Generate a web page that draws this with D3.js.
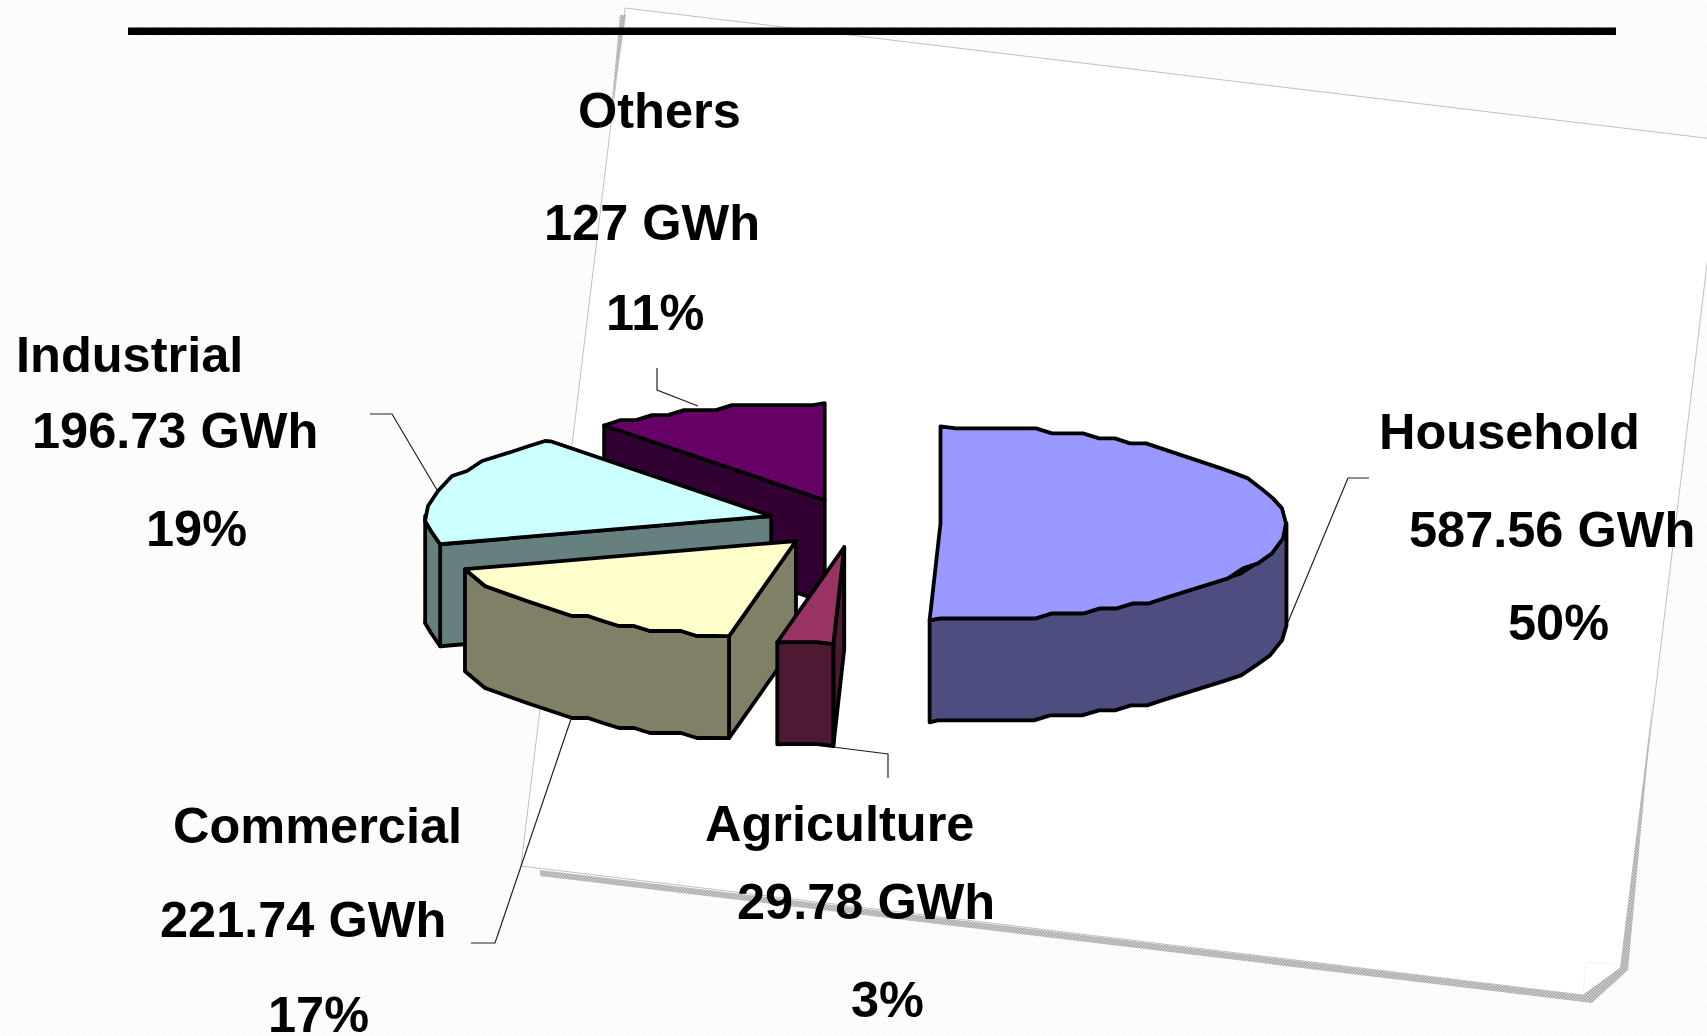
<!DOCTYPE html>
<html>
<head>
<meta charset="utf-8">
<title>Electricity use by sector</title>
<script src="https://cdn.jsdelivr.net/npm/d3@7"></script>
<style>
  html, body { margin: 0; padding: 0; background: #fcfcfc; overflow: hidden; }
  text { font-family: "Liberation Sans", Arial, sans-serif; font-weight: bold; font-size: 50.5px; fill: #000; }
</style>
</head>
<body>
<div id="chart"></div>
<script>
var categories = ['Household', 'Agriculture', 'Commercial', 'Industrial', 'Others'];
var gwhLabels = ['587.56 GWh', '29.78 GWh', '221.74 GWh', '196.73 GWh', '127 GWh'];
var percentLabels = ['50%', '3%', '17%', '19%', '11%'];
// slice sizes as drawn in the picture, in percent of the full circle
var sliceShares = [50.5, 2.6, 17.2, 18.7, 11];
var topColors = ['#9999ff', '#993366', '#ffffcc', '#ccffff', '#660066'];

var width = 1707, height = 1036;
var cx = 854, cy = 523, rx = 346, ry = 97, depth = 102, explode = 0.25;

// text lines (x, baseline) and the leader line of each slice, same order as categories
var labelLayout = [
  { lines: [[1379, 449], [1409, 547], [1508, 640]], leader: [[1288, 622], [1348, 478], [1369, 478]] },
  { lines: [[705, 841], [737, 919], [851, 1017]], leader: [[833, 747], [888, 754], [888, 778]] },
  { lines: [[173, 843], [160, 937], [268, 1032]], leader: [[571, 719], [495, 943], [471, 943]] },
  { lines: [[16, 372], [32, 448], [146, 546]], leader: [[437, 490], [392, 414], [370, 414]] },
  { lines: [[578, 128], [544, 240], [606, 330]], leader: [[698, 406], [657, 390], [657, 368]] }
];

var svg = d3.select('#chart').append('svg')
  .attr('width', width)
  .attr('height', height)
  .style('display', 'block');

var defs = svg.append('defs');

// faint paper texture of the slide background
var bgPattern = defs.append('pattern')
  .attr('id', 'bgTexture')
  .attr('patternUnits', 'userSpaceOnUse')
  .attr('width', 16)
  .attr('height', 10);
bgPattern.append('rect').attr('width', 16).attr('height', 10).attr('fill', '#fdfdfd');
bgPattern.append('path')
  .attr('d', 'M0 5 L4 2 L8 5 L12 8 L16 5')
  .attr('fill', 'none')
  .attr('stroke', '#fafafa')
  .attr('stroke-width', 2);

// checker used by the sheet's shadow
var hatch = defs.append('pattern')
  .attr('id', 'hatch')
  .attr('patternUnits', 'userSpaceOnUse')
  .attr('width', 3)
  .attr('height', 3);
hatch.append('rect').attr('width', 3).attr('height', 3).attr('fill', '#d4d4d4');
hatch.append('rect').attr('width', 1.5).attr('height', 1.5).attr('fill', '#a0a0a0');
hatch.append('rect').attr('x', 1.5).attr('y', 1.5).attr('width', 1.5).attr('height', 1.5).attr('fill', '#a0a0a0');

svg.append('rect')
  .attr('width', width)
  .attr('height', height)
  .attr('fill', 'url(#bgTexture)');

var line = d3.line();

// tilted white sheet behind the chart
svg.append('path')
  .attr('d', line([[625, 8], [1722, 140], [1622, 967], [1583, 995], [521, 866]]) + 'Z')
  .attr('fill', '#fff')
  .attr('stroke', '#c0c0c0')
  .attr('stroke-width', 1);

svg.append('path')
  .attr('d', line([[540, 870], [1583, 995], [1620, 968], [1653, 700], [1628, 970], [1592, 1003], [540, 876]]) + 'Z')
  .attr('fill', 'url(#hatch)');
svg.append('path')
  .attr('d', line([[620, 15], [626, 15], [613, 100], [612, 100]]) + 'Z')
  .attr('fill', 'url(#hatch)');
svg.append('path')
  .attr('d', line([[1583, 995], [1586, 962], [1620, 965]]))
  .attr('fill', 'none')
  .attr('stroke', '#f4f4f4')
  .attr('stroke-width', 1);

// rule across the top
svg.append('rect')
  .attr('x', 128)
  .attr('y', 27.5)
  .attr('width', 1488)
  .attr('height', 7.5)
  .attr('fill', '#000');

var slices = d3.pie().sort(null).value(function (d) { return d; })(sliceShares);

slices.forEach(function (s, i) {
  var mid = (s.startAngle + s.endAngle) / 2;
  s.ox = cx + explode * rx * Math.sin(mid);
  s.oy = cy - explode * ry * Math.cos(mid);
  s.top = topColors[i];
  s.wall = d3.rgb(topColors[i]);
  s.wall = d3.rgb(s.wall.r / 2, s.wall.g / 2, s.wall.b / 2).formatHex();
});

function project(s, a) {
  return [s.ox + rx * Math.sin(a), s.oy - ry * Math.cos(a)];
}

// rim of a slice, walked in even steps and snapped to a coarse grid:
// the original chart was a low resolution metafile, so its edges are stepped
function rim(s, a0, a1) {
  var pts = [project(s, a0)];
  var a = a0;
  while (true) {
    a += 16 / Math.hypot(rx * Math.cos(a), ry * Math.sin(a));
    if (a >= a1) break;
    var p = project(s, a);
    pts.push([Math.round(p[0]), s.oy + Math.round((p[1] - s.oy) / 5) * 5]);
  }
  pts.push(project(s, a1));
  return pts;
}

function drop(pts) {
  return pts.map(function (p) { return [p[0], p[1] + depth]; });
}

function radialWall(s, a) {
  var p = project(s, a);
  return [[s.ox, s.oy], p, [p[0], p[1] + depth], [s.ox, s.oy + depth]];
}

function outerWall(s) {
  // only the front half of the rim can be seen
  var a0 = Math.max(s.startAngle, Math.PI / 2);
  var a1 = Math.min(s.endAngle, Math.PI * 1.5);
  if (a0 >= a1) return null;
  var pts = rim(s, a0, a1);
  return pts.concat(drop(pts).reverse());
}

// leader lines go under the pie
labelLayout.forEach(function (l) {
  svg.append('path')
    .attr('d', line(l.leader))
    .attr('fill', 'none')
    .attr('stroke', '#222')
    .attr('stroke-width', 1.2);
});

var drawOrder = slices.slice().sort(function (a, b) { return a.oy - b.oy; });

function face(g, pts, color) {
  g.append('path')
    .attr('d', line(pts) + 'Z')
    .attr('fill', color)
    .attr('stroke', '#000')
    .attr('stroke-width', 3.8)
    .attr('stroke-linejoin', 'round');
}

var pie = svg.append('g').attr('class', 'pie');
drawOrder.forEach(function (s) {
  var g = pie.append('g');
  if (Math.sin(s.startAngle) < -1e-6) face(g, radialWall(s, s.startAngle), s.wall);
  if (Math.sin(s.endAngle) > 1e-6) face(g, radialWall(s, s.endAngle), s.wall);
  var outer = outerWall(s);
  if (outer) face(g, outer, s.wall);
  face(g, [[s.ox, s.oy]].concat(rim(s, s.startAngle, s.endAngle)), s.top);
});

categories.forEach(function (name, i) {
  var rows = [name, gwhLabels[i], percentLabels[i]];
  rows.forEach(function (t, j) {
    svg.append('text')
      .attr('x', labelLayout[i].lines[j][0])
      .attr('y', labelLayout[i].lines[j][1])
      .text(t);
  });
});
</script>
</body>
</html>
